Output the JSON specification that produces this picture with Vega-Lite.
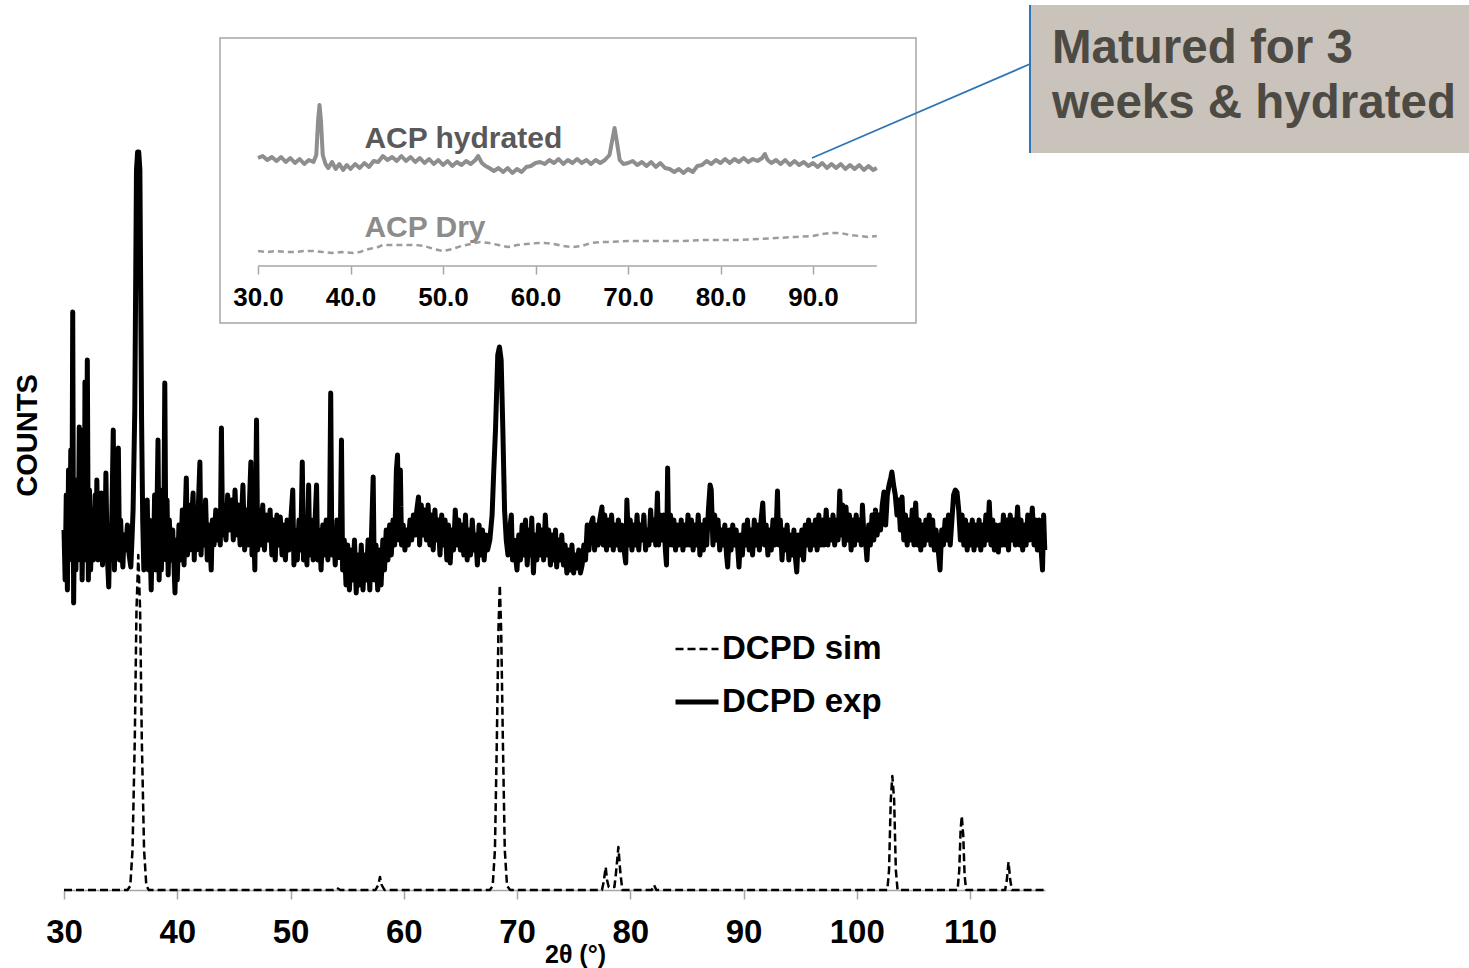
{
  "$schema": "https://vega.github.io/schema/vega-lite/v6.json",
  "width": 981,
  "height": 890,
  "autosize": "none",
  "padding": {"left": 64, "top": 0, "right": 424, "bottom": 78},
  "background": "white",
  "config": {
    "view": {"stroke": null},
    "font": "Liberation Sans"
  },
  "datasets": {
    "xrd": [
      {"series":"DCPD sim","theta":30,"counts":0},
      {"series":"DCPD sim","theta":35.6,"counts":0},
      {"series":"DCPD sim","theta":35.85,"counts":4},
      {"series":"DCPD sim","theta":36.05,"counts":40},
      {"series":"DCPD sim","theta":36.25,"counts":150},
      {"series":"DCPD sim","theta":36.4,"counts":280},
      {"series":"DCPD sim","theta":36.56,"counts":335},
      {"series":"DCPD sim","theta":36.72,"counts":280},
      {"series":"DCPD sim","theta":36.87,"counts":150},
      {"series":"DCPD sim","theta":37.07,"counts":40},
      {"series":"DCPD sim","theta":37.27,"counts":4},
      {"series":"DCPD sim","theta":37.5,"counts":0},
      {"series":"DCPD sim","theta":53.8,"counts":0},
      {"series":"DCPD sim","theta":54.1,"counts":2},
      {"series":"DCPD sim","theta":54.4,"counts":0},
      {"series":"DCPD sim","theta":57.5,"counts":0},
      {"series":"DCPD sim","theta":57.75,"counts":5},
      {"series":"DCPD sim","theta":57.9,"counts":13},
      {"series":"DCPD sim","theta":58.05,"counts":5},
      {"series":"DCPD sim","theta":58.3,"counts":0},
      {"series":"DCPD sim","theta":67.6,"counts":0},
      {"series":"DCPD sim","theta":67.85,"counts":4},
      {"series":"DCPD sim","theta":68.05,"counts":40},
      {"series":"DCPD sim","theta":68.22,"counts":150},
      {"series":"DCPD sim","theta":68.36,"counts":260},
      {"series":"DCPD sim","theta":68.48,"counts":305},
      {"series":"DCPD sim","theta":68.6,"counts":260},
      {"series":"DCPD sim","theta":68.75,"counts":150},
      {"series":"DCPD sim","theta":68.92,"counts":40},
      {"series":"DCPD sim","theta":69.12,"counts":4},
      {"series":"DCPD sim","theta":69.4,"counts":0},
      {"series":"DCPD sim","theta":77.5,"counts":0},
      {"series":"DCPD sim","theta":77.65,"counts":8},
      {"series":"DCPD sim","theta":77.83,"counts":23},
      {"series":"DCPD sim","theta":77.95,"counts":10},
      {"series":"DCPD sim","theta":78.1,"counts":3},
      {"series":"DCPD sim","theta":78.6,"counts":3},
      {"series":"DCPD sim","theta":78.75,"counts":18},
      {"series":"DCPD sim","theta":78.95,"counts":43},
      {"series":"DCPD sim","theta":79.12,"counts":18},
      {"series":"DCPD sim","theta":79.3,"counts":0},
      {"series":"DCPD sim","theta":81.9,"counts":0},
      {"series":"DCPD sim","theta":82.1,"counts":5},
      {"series":"DCPD sim","theta":82.3,"counts":0},
      {"series":"DCPD sim","theta":102.7,"counts":0},
      {"series":"DCPD sim","theta":102.85,"counts":20},
      {"series":"DCPD sim","theta":103.0,"counts":90},
      {"series":"DCPD sim","theta":103.14,"counts":114},
      {"series":"DCPD sim","theta":103.3,"counts":90},
      {"series":"DCPD sim","theta":103.45,"counts":20},
      {"series":"DCPD sim","theta":103.6,"counts":0},
      {"series":"DCPD sim","theta":108.9,"counts":0},
      {"series":"DCPD sim","theta":109.05,"counts":20},
      {"series":"DCPD sim","theta":109.17,"counts":60},
      {"series":"DCPD sim","theta":109.27,"counts":74},
      {"series":"DCPD sim","theta":109.4,"counts":55},
      {"series":"DCPD sim","theta":109.52,"counts":15},
      {"series":"DCPD sim","theta":109.65,"counts":0},
      {"series":"DCPD sim","theta":113.1,"counts":0},
      {"series":"DCPD sim","theta":113.25,"counts":10},
      {"series":"DCPD sim","theta":113.4,"counts":28},
      {"series":"DCPD sim","theta":113.55,"counts":10},
      {"series":"DCPD sim","theta":113.7,"counts":0},
      {"series":"DCPD sim","theta":116.6,"counts":0},
      {"series":"DCPD exp","theta":30.0,"counts":360},
      {"series":"DCPD exp","theta":30.1,"counts":310},
      {"series":"DCPD exp","theta":30.2,"counts":395},
      {"series":"DCPD exp","theta":30.3,"counts":300},
      {"series":"DCPD exp","theta":30.4,"counts":420},
      {"series":"DCPD exp","theta":30.5,"counts":330},
      {"series":"DCPD exp","theta":30.6,"counts":440},
      {"series":"DCPD exp","theta":30.7,"counts":350},
      {"series":"DCPD exp","theta":30.77,"counts":578},
      {"series":"DCPD exp","theta":30.85,"counts":287},
      {"series":"DCPD exp","theta":30.95,"counts":395},
      {"series":"DCPD exp","theta":31.05,"counts":320},
      {"series":"DCPD exp","theta":31.15,"counts":410},
      {"series":"DCPD exp","theta":31.25,"counts":330},
      {"series":"DCPD exp","theta":31.35,"counts":463},
      {"series":"DCPD exp","theta":31.42,"counts":340},
      {"series":"DCPD exp","theta":31.5,"counts":460},
      {"series":"DCPD exp","theta":31.6,"counts":310},
      {"series":"DCPD exp","theta":31.7,"counts":395},
      {"series":"DCPD exp","theta":31.8,"counts":340},
      {"series":"DCPD exp","theta":31.85,"counts":508},
      {"series":"DCPD exp","theta":31.95,"counts":330},
      {"series":"DCPD exp","theta":32.06,"counts":530},
      {"series":"DCPD exp","theta":32.15,"counts":310},
      {"series":"DCPD exp","theta":32.25,"counts":400},
      {"series":"DCPD exp","theta":32.35,"counts":320},
      {"series":"DCPD exp","theta":32.5,"counts":380},
      {"series":"DCPD exp","theta":32.6,"counts":330},
      {"series":"DCPD exp","theta":32.75,"counts":395},
      {"series":"DCPD exp","theta":32.85,"counts":340},
      {"series":"DCPD exp","theta":32.9,"counts":410},
      {"series":"DCPD exp","theta":33.0,"counts":330},
      {"series":"DCPD exp","theta":33.1,"counts":380},
      {"series":"DCPD exp","theta":33.2,"counts":345},
      {"series":"DCPD exp","theta":33.3,"counts":397},
      {"series":"DCPD exp","theta":33.4,"counts":325},
      {"series":"DCPD exp","theta":33.5,"counts":380},
      {"series":"DCPD exp","theta":33.6,"counts":335},
      {"series":"DCPD exp","theta":33.7,"counts":417},
      {"series":"DCPD exp","theta":33.8,"counts":340},
      {"series":"DCPD exp","theta":33.95,"counts":303},
      {"series":"DCPD exp","theta":34.05,"counts":360},
      {"series":"DCPD exp","theta":34.15,"counts":330},
      {"series":"DCPD exp","theta":34.25,"counts":390},
      {"series":"DCPD exp","theta":34.35,"counts":460},
      {"series":"DCPD exp","theta":34.45,"counts":320},
      {"series":"DCPD exp","theta":34.55,"counts":380},
      {"series":"DCPD exp","theta":34.65,"counts":335},
      {"series":"DCPD exp","theta":34.8,"counts":442},
      {"series":"DCPD exp","theta":34.9,"counts":330},
      {"series":"DCPD exp","theta":35.0,"counts":370},
      {"series":"DCPD exp","theta":35.1,"counts":340},
      {"series":"DCPD exp","theta":35.2,"counts":323},
      {"series":"DCPD exp","theta":35.3,"counts":355},
      {"series":"DCPD exp","theta":35.45,"counts":340},
      {"series":"DCPD exp","theta":35.6,"counts":365},
      {"series":"DCPD exp","theta":35.75,"counts":335},
      {"series":"DCPD exp","theta":35.9,"counts":323},
      {"series":"DCPD exp","theta":36.0,"counts":350},
      {"series":"DCPD exp","theta":36.1,"counts":380},
      {"series":"DCPD exp","theta":36.25,"counts":480},
      {"series":"DCPD exp","theta":36.4,"counts":720},
      {"series":"DCPD exp","theta":36.5,"counts":738},
      {"series":"DCPD exp","theta":36.6,"counts":738},
      {"series":"DCPD exp","theta":36.7,"counts":720},
      {"series":"DCPD exp","theta":36.85,"counts":470},
      {"series":"DCPD exp","theta":36.95,"counts":370},
      {"series":"DCPD exp","theta":37.05,"counts":320},
      {"series":"DCPD exp","theta":37.15,"counts":360},
      {"series":"DCPD exp","theta":37.25,"counts":330},
      {"series":"DCPD exp","theta":37.35,"counts":390},
      {"series":"DCPD exp","theta":37.45,"counts":320},
      {"series":"DCPD exp","theta":37.55,"counts":370},
      {"series":"DCPD exp","theta":37.7,"counts":300},
      {"series":"DCPD exp","theta":37.8,"counts":360},
      {"series":"DCPD exp","theta":37.9,"counts":330},
      {"series":"DCPD exp","theta":38.0,"counts":395},
      {"series":"DCPD exp","theta":38.1,"counts":320},
      {"series":"DCPD exp","theta":38.2,"counts":370},
      {"series":"DCPD exp","theta":38.3,"counts":450},
      {"series":"DCPD exp","theta":38.4,"counts":310},
      {"series":"DCPD exp","theta":38.5,"counts":380},
      {"series":"DCPD exp","theta":38.6,"counts":320},
      {"series":"DCPD exp","theta":38.7,"counts":400},
      {"series":"DCPD exp","theta":38.8,"counts":340},
      {"series":"DCPD exp","theta":38.9,"counts":507},
      {"series":"DCPD exp","theta":39.0,"counts":330},
      {"series":"DCPD exp","theta":39.1,"counts":390},
      {"series":"DCPD exp","theta":39.2,"counts":315},
      {"series":"DCPD exp","theta":39.3,"counts":370},
      {"series":"DCPD exp","theta":39.45,"counts":330},
      {"series":"DCPD exp","theta":39.6,"counts":360},
      {"series":"DCPD exp","theta":39.8,"counts":297},
      {"series":"DCPD exp","theta":39.9,"counts":350},
      {"series":"DCPD exp","theta":40.0,"counts":310},
      {"series":"DCPD exp","theta":40.15,"counts":365},
      {"series":"DCPD exp","theta":40.3,"counts":330},
      {"series":"DCPD exp","theta":40.45,"counts":380},
      {"series":"DCPD exp","theta":40.6,"counts":325},
      {"series":"DCPD exp","theta":40.7,"counts":375},
      {"series":"DCPD exp","theta":40.8,"counts":412},
      {"series":"DCPD exp","theta":40.9,"counts":335},
      {"series":"DCPD exp","theta":41.0,"counts":385},
      {"series":"DCPD exp","theta":41.1,"counts":340},
      {"series":"DCPD exp","theta":41.25,"counts":370},
      {"series":"DCPD exp","theta":41.4,"counts":397},
      {"series":"DCPD exp","theta":41.5,"counts":330},
      {"series":"DCPD exp","theta":41.6,"counts":375},
      {"series":"DCPD exp","theta":41.7,"counts":340},
      {"series":"DCPD exp","theta":41.85,"counts":380},
      {"series":"DCPD exp","theta":42.0,"counts":428},
      {"series":"DCPD exp","theta":42.1,"counts":335},
      {"series":"DCPD exp","theta":42.25,"counts":380},
      {"series":"DCPD exp","theta":42.4,"counts":345},
      {"series":"DCPD exp","theta":42.5,"counts":390},
      {"series":"DCPD exp","theta":42.65,"counts":330},
      {"series":"DCPD exp","theta":42.8,"counts":365},
      {"series":"DCPD exp","theta":43.0,"counts":320},
      {"series":"DCPD exp","theta":43.1,"counts":370},
      {"series":"DCPD exp","theta":43.25,"counts":345},
      {"series":"DCPD exp","theta":43.4,"counts":380},
      {"series":"DCPD exp","theta":43.5,"counts":350},
      {"series":"DCPD exp","theta":43.65,"counts":375},
      {"series":"DCPD exp","theta":43.8,"counts":345},
      {"series":"DCPD exp","theta":43.9,"counts":462},
      {"series":"DCPD exp","theta":44.0,"counts":355},
      {"series":"DCPD exp","theta":44.15,"counts":385},
      {"series":"DCPD exp","theta":44.3,"counts":350},
      {"series":"DCPD exp","theta":44.45,"counts":395},
      {"series":"DCPD exp","theta":44.6,"counts":360},
      {"series":"DCPD exp","theta":44.8,"counts":390},
      {"series":"DCPD exp","theta":44.95,"counts":350},
      {"series":"DCPD exp","theta":45.1,"counts":400},
      {"series":"DCPD exp","theta":45.25,"counts":355},
      {"series":"DCPD exp","theta":45.4,"counts":385},
      {"series":"DCPD exp","theta":45.55,"counts":345},
      {"series":"DCPD exp","theta":45.7,"counts":380},
      {"series":"DCPD exp","theta":45.8,"counts":405},
      {"series":"DCPD exp","theta":45.95,"counts":340},
      {"series":"DCPD exp","theta":46.1,"counts":380},
      {"series":"DCPD exp","theta":46.25,"counts":345},
      {"series":"DCPD exp","theta":46.4,"counts":395},
      {"series":"DCPD exp","theta":46.5,"counts":428},
      {"series":"DCPD exp","theta":46.6,"counts":335},
      {"series":"DCPD exp","theta":46.75,"counts":365},
      {"series":"DCPD exp","theta":46.85,"counts":320},
      {"series":"DCPD exp","theta":47.0,"counts":470},
      {"series":"DCPD exp","theta":47.1,"counts":340},
      {"series":"DCPD exp","theta":47.25,"counts":380},
      {"series":"DCPD exp","theta":47.4,"counts":345},
      {"series":"DCPD exp","theta":47.55,"counts":385},
      {"series":"DCPD exp","theta":47.7,"counts":340},
      {"series":"DCPD exp","theta":47.85,"counts":375},
      {"series":"DCPD exp","theta":48.0,"counts":350},
      {"series":"DCPD exp","theta":48.2,"counts":380},
      {"series":"DCPD exp","theta":48.35,"counts":335},
      {"series":"DCPD exp","theta":48.5,"counts":370},
      {"series":"DCPD exp","theta":48.65,"counts":330},
      {"series":"DCPD exp","theta":48.8,"counts":375},
      {"series":"DCPD exp","theta":48.95,"counts":345},
      {"series":"DCPD exp","theta":49.1,"counts":373},
      {"series":"DCPD exp","theta":49.25,"counts":335},
      {"series":"DCPD exp","theta":49.4,"counts":365},
      {"series":"DCPD exp","theta":49.55,"counts":330},
      {"series":"DCPD exp","theta":49.7,"counts":370},
      {"series":"DCPD exp","theta":49.85,"counts":340},
      {"series":"DCPD exp","theta":50.0,"counts":365},
      {"series":"DCPD exp","theta":50.2,"counts":400},
      {"series":"DCPD exp","theta":50.3,"counts":325},
      {"series":"DCPD exp","theta":50.45,"counts":360},
      {"series":"DCPD exp","theta":50.6,"counts":330},
      {"series":"DCPD exp","theta":50.75,"counts":370},
      {"series":"DCPD exp","theta":50.9,"counts":340},
      {"series":"DCPD exp","theta":51.04,"counts":428},
      {"series":"DCPD exp","theta":51.15,"counts":330},
      {"series":"DCPD exp","theta":51.3,"counts":365},
      {"series":"DCPD exp","theta":51.45,"counts":325},
      {"series":"DCPD exp","theta":51.6,"counts":405},
      {"series":"DCPD exp","theta":51.7,"counts":335},
      {"series":"DCPD exp","theta":51.85,"counts":370},
      {"series":"DCPD exp","theta":52.0,"counts":330},
      {"series":"DCPD exp","theta":52.15,"counts":365},
      {"series":"DCPD exp","theta":52.3,"counts":405},
      {"series":"DCPD exp","theta":52.4,"counts":330},
      {"series":"DCPD exp","theta":52.55,"counts":360},
      {"series":"DCPD exp","theta":52.7,"counts":320},
      {"series":"DCPD exp","theta":52.85,"counts":365},
      {"series":"DCPD exp","theta":53.0,"counts":335},
      {"series":"DCPD exp","theta":53.15,"counts":370},
      {"series":"DCPD exp","theta":53.3,"counts":330},
      {"series":"DCPD exp","theta":53.45,"counts":365},
      {"series":"DCPD exp","theta":53.55,"counts":497},
      {"series":"DCPD exp","theta":53.65,"counts":335},
      {"series":"DCPD exp","theta":53.8,"counts":360},
      {"series":"DCPD exp","theta":53.95,"counts":325},
      {"series":"DCPD exp","theta":54.1,"counts":370},
      {"series":"DCPD exp","theta":54.25,"counts":330},
      {"series":"DCPD exp","theta":54.4,"counts":355},
      {"series":"DCPD exp","theta":54.5,"counts":450},
      {"series":"DCPD exp","theta":54.6,"counts":320},
      {"series":"DCPD exp","theta":54.75,"counts":350},
      {"series":"DCPD exp","theta":54.9,"counts":305},
      {"series":"DCPD exp","theta":55.05,"counts":345},
      {"series":"DCPD exp","theta":55.2,"counts":300},
      {"series":"DCPD exp","theta":55.35,"counts":340},
      {"series":"DCPD exp","theta":55.5,"counts":310},
      {"series":"DCPD exp","theta":55.65,"counts":350},
      {"series":"DCPD exp","theta":55.8,"counts":297},
      {"series":"DCPD exp","theta":55.95,"counts":335},
      {"series":"DCPD exp","theta":56.1,"counts":305},
      {"series":"DCPD exp","theta":56.25,"counts":345},
      {"series":"DCPD exp","theta":56.4,"counts":300},
      {"series":"DCPD exp","theta":56.55,"counts":335},
      {"series":"DCPD exp","theta":56.7,"counts":310},
      {"series":"DCPD exp","theta":56.85,"counts":350},
      {"series":"DCPD exp","theta":57.0,"counts":300},
      {"series":"DCPD exp","theta":57.15,"counts":355},
      {"series":"DCPD exp","theta":57.3,"counts":413},
      {"series":"DCPD exp","theta":57.4,"counts":310},
      {"series":"DCPD exp","theta":57.55,"counts":345},
      {"series":"DCPD exp","theta":57.7,"counts":300},
      {"series":"DCPD exp","theta":57.85,"counts":340},
      {"series":"DCPD exp","theta":58.0,"counts":305},
      {"series":"DCPD exp","theta":58.15,"counts":350},
      {"series":"DCPD exp","theta":58.3,"counts":320},
      {"series":"DCPD exp","theta":58.45,"counts":360},
      {"series":"DCPD exp","theta":58.6,"counts":330},
      {"series":"DCPD exp","theta":58.75,"counts":365},
      {"series":"DCPD exp","theta":58.9,"counts":335},
      {"series":"DCPD exp","theta":59.05,"counts":370},
      {"series":"DCPD exp","theta":59.2,"counts":345},
      {"series":"DCPD exp","theta":59.35,"counts":420},
      {"series":"DCPD exp","theta":59.45,"counts":435},
      {"series":"DCPD exp","theta":59.55,"counts":350},
      {"series":"DCPD exp","theta":59.7,"counts":420},
      {"series":"DCPD exp","theta":59.8,"counts":345},
      {"series":"DCPD exp","theta":59.95,"counts":365},
      {"series":"DCPD exp","theta":60.1,"counts":340},
      {"series":"DCPD exp","theta":60.25,"counts":360},
      {"series":"DCPD exp","theta":60.4,"counts":345},
      {"series":"DCPD exp","theta":60.55,"counts":370},
      {"series":"DCPD exp","theta":60.7,"counts":350},
      {"series":"DCPD exp","theta":60.85,"counts":375},
      {"series":"DCPD exp","theta":61.0,"counts":355},
      {"series":"DCPD exp","theta":61.15,"counts":380},
      {"series":"DCPD exp","theta":61.3,"counts":393},
      {"series":"DCPD exp","theta":61.4,"counts":345},
      {"series":"DCPD exp","theta":61.55,"counts":385},
      {"series":"DCPD exp","theta":61.7,"counts":355},
      {"series":"DCPD exp","theta":61.85,"counts":380},
      {"series":"DCPD exp","theta":62.0,"counts":350},
      {"series":"DCPD exp","theta":62.15,"counts":385},
      {"series":"DCPD exp","theta":62.3,"counts":345},
      {"series":"DCPD exp","theta":62.45,"counts":375},
      {"series":"DCPD exp","theta":62.6,"counts":340},
      {"series":"DCPD exp","theta":62.75,"counts":380},
      {"series":"DCPD exp","theta":62.9,"counts":350},
      {"series":"DCPD exp","theta":63.05,"counts":370},
      {"series":"DCPD exp","theta":63.2,"counts":335},
      {"series":"DCPD exp","theta":63.35,"counts":375},
      {"series":"DCPD exp","theta":63.5,"counts":345},
      {"series":"DCPD exp","theta":63.65,"counts":370},
      {"series":"DCPD exp","theta":63.8,"counts":330},
      {"series":"DCPD exp","theta":63.95,"counts":365},
      {"series":"DCPD exp","theta":64.1,"counts":327},
      {"series":"DCPD exp","theta":64.25,"counts":360},
      {"series":"DCPD exp","theta":64.4,"counts":340},
      {"series":"DCPD exp","theta":64.55,"counts":380},
      {"series":"DCPD exp","theta":64.7,"counts":345},
      {"series":"DCPD exp","theta":64.85,"counts":370},
      {"series":"DCPD exp","theta":65.0,"counts":340},
      {"series":"DCPD exp","theta":65.15,"counts":365},
      {"series":"DCPD exp","theta":65.3,"counts":335},
      {"series":"DCPD exp","theta":65.45,"counts":375},
      {"series":"DCPD exp","theta":65.6,"counts":330},
      {"series":"DCPD exp","theta":65.75,"counts":360},
      {"series":"DCPD exp","theta":65.9,"counts":335},
      {"series":"DCPD exp","theta":66.05,"counts":370},
      {"series":"DCPD exp","theta":66.2,"counts":340},
      {"series":"DCPD exp","theta":66.35,"counts":355},
      {"series":"DCPD exp","theta":66.5,"counts":325},
      {"series":"DCPD exp","theta":66.65,"counts":365},
      {"series":"DCPD exp","theta":66.8,"counts":335},
      {"series":"DCPD exp","theta":66.95,"counts":360},
      {"series":"DCPD exp","theta":67.1,"counts":330},
      {"series":"DCPD exp","theta":67.25,"counts":355},
      {"series":"DCPD exp","theta":67.4,"counts":340},
      {"series":"DCPD exp","theta":67.6,"counts":350},
      {"series":"DCPD exp","theta":67.8,"counts":375},
      {"series":"DCPD exp","theta":67.95,"counts":420},
      {"series":"DCPD exp","theta":68.1,"counts":460},
      {"series":"DCPD exp","theta":68.3,"counts":535},
      {"series":"DCPD exp","theta":68.45,"counts":543},
      {"series":"DCPD exp","theta":68.6,"counts":530},
      {"series":"DCPD exp","theta":68.75,"counts":460},
      {"series":"DCPD exp","theta":68.9,"counts":380},
      {"series":"DCPD exp","theta":69.05,"counts":350},
      {"series":"DCPD exp","theta":69.2,"counts":335},
      {"series":"DCPD exp","theta":69.35,"counts":360},
      {"series":"DCPD exp","theta":69.5,"counts":375},
      {"series":"DCPD exp","theta":69.6,"counts":330},
      {"series":"DCPD exp","theta":69.75,"counts":350},
      {"series":"DCPD exp","theta":69.9,"counts":330},
      {"series":"DCPD exp","theta":70.0,"counts":320},
      {"series":"DCPD exp","theta":70.15,"counts":355},
      {"series":"DCPD exp","theta":70.3,"counts":330},
      {"series":"DCPD exp","theta":70.45,"counts":365},
      {"series":"DCPD exp","theta":70.6,"counts":335},
      {"series":"DCPD exp","theta":70.75,"counts":370},
      {"series":"DCPD exp","theta":70.9,"counts":325},
      {"series":"DCPD exp","theta":71.05,"counts":360},
      {"series":"DCPD exp","theta":71.2,"counts":335},
      {"series":"DCPD exp","theta":71.3,"counts":372},
      {"series":"DCPD exp","theta":71.45,"counts":317},
      {"series":"DCPD exp","theta":71.6,"counts":355},
      {"series":"DCPD exp","theta":71.75,"counts":330},
      {"series":"DCPD exp","theta":71.9,"counts":365},
      {"series":"DCPD exp","theta":72.05,"counts":335},
      {"series":"DCPD exp","theta":72.2,"counts":360},
      {"series":"DCPD exp","theta":72.35,"counts":330},
      {"series":"DCPD exp","theta":72.5,"counts":375},
      {"series":"DCPD exp","theta":72.65,"counts":335},
      {"series":"DCPD exp","theta":72.8,"counts":360},
      {"series":"DCPD exp","theta":72.95,"counts":325},
      {"series":"DCPD exp","theta":73.1,"counts":355},
      {"series":"DCPD exp","theta":73.25,"counts":330},
      {"series":"DCPD exp","theta":73.4,"counts":360},
      {"series":"DCPD exp","theta":73.5,"counts":323},
      {"series":"DCPD exp","theta":73.65,"counts":350},
      {"series":"DCPD exp","theta":73.8,"counts":330},
      {"series":"DCPD exp","theta":73.95,"counts":355},
      {"series":"DCPD exp","theta":74.1,"counts":325},
      {"series":"DCPD exp","theta":74.25,"counts":345},
      {"series":"DCPD exp","theta":74.4,"counts":317},
      {"series":"DCPD exp","theta":74.55,"counts":340},
      {"series":"DCPD exp","theta":74.7,"counts":320},
      {"series":"DCPD exp","theta":74.85,"counts":345},
      {"series":"DCPD exp","theta":75.0,"counts":317},
      {"series":"DCPD exp","theta":75.15,"counts":335},
      {"series":"DCPD exp","theta":75.3,"counts":322},
      {"series":"DCPD exp","theta":75.45,"counts":340},
      {"series":"DCPD exp","theta":75.6,"counts":317},
      {"series":"DCPD exp","theta":75.75,"counts":325},
      {"series":"DCPD exp","theta":75.9,"counts":345},
      {"series":"DCPD exp","theta":76.05,"counts":330},
      {"series":"DCPD exp","theta":76.2,"counts":365},
      {"series":"DCPD exp","theta":76.35,"counts":340},
      {"series":"DCPD exp","theta":76.5,"counts":365},
      {"series":"DCPD exp","theta":76.7,"counts":372},
      {"series":"DCPD exp","theta":76.85,"counts":340},
      {"series":"DCPD exp","theta":77.0,"counts":365},
      {"series":"DCPD exp","theta":77.15,"counts":345},
      {"series":"DCPD exp","theta":77.3,"counts":370},
      {"series":"DCPD exp","theta":77.5,"counts":383},
      {"series":"DCPD exp","theta":77.6,"counts":345},
      {"series":"DCPD exp","theta":77.75,"counts":375},
      {"series":"DCPD exp","theta":77.9,"counts":340},
      {"series":"DCPD exp","theta":78.05,"counts":370},
      {"series":"DCPD exp","theta":78.2,"counts":345},
      {"series":"DCPD exp","theta":78.35,"counts":375},
      {"series":"DCPD exp","theta":78.5,"counts":340},
      {"series":"DCPD exp","theta":78.65,"counts":365},
      {"series":"DCPD exp","theta":78.8,"counts":345},
      {"series":"DCPD exp","theta":78.95,"counts":370},
      {"series":"DCPD exp","theta":79.1,"counts":340},
      {"series":"DCPD exp","theta":79.25,"counts":365},
      {"series":"DCPD exp","theta":79.4,"counts":345},
      {"series":"DCPD exp","theta":79.6,"counts":327},
      {"series":"DCPD exp","theta":79.7,"counts":390},
      {"series":"DCPD exp","theta":79.85,"counts":345},
      {"series":"DCPD exp","theta":80.0,"counts":370},
      {"series":"DCPD exp","theta":80.15,"counts":340},
      {"series":"DCPD exp","theta":80.3,"counts":365},
      {"series":"DCPD exp","theta":80.45,"counts":345},
      {"series":"DCPD exp","theta":80.6,"counts":375},
      {"series":"DCPD exp","theta":80.75,"counts":340},
      {"series":"DCPD exp","theta":80.9,"counts":365},
      {"series":"DCPD exp","theta":81.05,"counts":350},
      {"series":"DCPD exp","theta":81.2,"counts":375},
      {"series":"DCPD exp","theta":81.35,"counts":340},
      {"series":"DCPD exp","theta":81.5,"counts":360},
      {"series":"DCPD exp","theta":81.65,"counts":345},
      {"series":"DCPD exp","theta":81.8,"counts":380},
      {"series":"DCPD exp","theta":81.95,"counts":350},
      {"series":"DCPD exp","theta":82.1,"counts":370},
      {"series":"DCPD exp","theta":82.25,"counts":345},
      {"series":"DCPD exp","theta":82.4,"counts":397},
      {"series":"DCPD exp","theta":82.5,"counts":345},
      {"series":"DCPD exp","theta":82.65,"counts":375},
      {"series":"DCPD exp","theta":82.8,"counts":350},
      {"series":"DCPD exp","theta":82.95,"counts":375},
      {"series":"DCPD exp","theta":83.1,"counts":340},
      {"series":"DCPD exp","theta":83.2,"counts":325},
      {"series":"DCPD exp","theta":83.3,"counts":422},
      {"series":"DCPD exp","theta":83.4,"counts":345},
      {"series":"DCPD exp","theta":83.55,"counts":375},
      {"series":"DCPD exp","theta":83.7,"counts":345},
      {"series":"DCPD exp","theta":83.85,"counts":370},
      {"series":"DCPD exp","theta":84.0,"counts":340},
      {"series":"DCPD exp","theta":84.15,"counts":365},
      {"series":"DCPD exp","theta":84.3,"counts":345},
      {"series":"DCPD exp","theta":84.5,"counts":370},
      {"series":"DCPD exp","theta":84.65,"counts":340},
      {"series":"DCPD exp","theta":84.8,"counts":365},
      {"series":"DCPD exp","theta":84.95,"counts":345},
      {"series":"DCPD exp","theta":85.1,"counts":375},
      {"series":"DCPD exp","theta":85.25,"counts":345},
      {"series":"DCPD exp","theta":85.4,"counts":370},
      {"series":"DCPD exp","theta":85.55,"counts":340},
      {"series":"DCPD exp","theta":85.7,"counts":365},
      {"series":"DCPD exp","theta":85.85,"counts":345},
      {"series":"DCPD exp","theta":86.0,"counts":375},
      {"series":"DCPD exp","theta":86.15,"counts":335},
      {"series":"DCPD exp","theta":86.3,"counts":365},
      {"series":"DCPD exp","theta":86.45,"counts":340},
      {"series":"DCPD exp","theta":86.6,"counts":370},
      {"series":"DCPD exp","theta":86.75,"counts":345},
      {"series":"DCPD exp","theta":86.9,"counts":380},
      {"series":"DCPD exp","theta":87.05,"counts":405},
      {"series":"DCPD exp","theta":87.15,"counts":400},
      {"series":"DCPD exp","theta":87.3,"counts":345},
      {"series":"DCPD exp","theta":87.45,"counts":375},
      {"series":"DCPD exp","theta":87.6,"counts":350},
      {"series":"DCPD exp","theta":87.75,"counts":370},
      {"series":"DCPD exp","theta":87.9,"counts":340},
      {"series":"DCPD exp","theta":88.05,"counts":360},
      {"series":"DCPD exp","theta":88.2,"counts":345},
      {"series":"DCPD exp","theta":88.35,"counts":365},
      {"series":"DCPD exp","theta":88.5,"counts":335},
      {"series":"DCPD exp","theta":88.6,"counts":323},
      {"series":"DCPD exp","theta":88.75,"counts":360},
      {"series":"DCPD exp","theta":88.9,"counts":340},
      {"series":"DCPD exp","theta":89.05,"counts":365},
      {"series":"DCPD exp","theta":89.2,"counts":345},
      {"series":"DCPD exp","theta":89.35,"counts":360},
      {"series":"DCPD exp","theta":89.5,"counts":340},
      {"series":"DCPD exp","theta":89.6,"counts":323},
      {"series":"DCPD exp","theta":89.75,"counts":355},
      {"series":"DCPD exp","theta":89.9,"counts":335},
      {"series":"DCPD exp","theta":90.05,"counts":365},
      {"series":"DCPD exp","theta":90.2,"counts":345},
      {"series":"DCPD exp","theta":90.35,"counts":370},
      {"series":"DCPD exp","theta":90.5,"counts":340},
      {"series":"DCPD exp","theta":90.65,"counts":360},
      {"series":"DCPD exp","theta":90.8,"counts":335},
      {"series":"DCPD exp","theta":90.95,"counts":370},
      {"series":"DCPD exp","theta":91.1,"counts":345},
      {"series":"DCPD exp","theta":91.25,"counts":365},
      {"series":"DCPD exp","theta":91.4,"counts":340},
      {"series":"DCPD exp","theta":91.55,"counts":370},
      {"series":"DCPD exp","theta":91.7,"counts":387},
      {"series":"DCPD exp","theta":91.85,"counts":345},
      {"series":"DCPD exp","theta":92.0,"counts":365},
      {"series":"DCPD exp","theta":92.15,"counts":335},
      {"series":"DCPD exp","theta":92.3,"counts":360},
      {"series":"DCPD exp","theta":92.45,"counts":340},
      {"series":"DCPD exp","theta":92.6,"counts":370},
      {"series":"DCPD exp","theta":92.75,"counts":345},
      {"series":"DCPD exp","theta":92.9,"counts":365},
      {"series":"DCPD exp","theta":93.0,"counts":399},
      {"series":"DCPD exp","theta":93.1,"counts":345},
      {"series":"DCPD exp","theta":93.25,"counts":370},
      {"series":"DCPD exp","theta":93.4,"counts":330},
      {"series":"DCPD exp","theta":93.55,"counts":360},
      {"series":"DCPD exp","theta":93.7,"counts":340},
      {"series":"DCPD exp","theta":93.85,"counts":365},
      {"series":"DCPD exp","theta":94.0,"counts":330},
      {"series":"DCPD exp","theta":94.15,"counts":355},
      {"series":"DCPD exp","theta":94.3,"counts":335},
      {"series":"DCPD exp","theta":94.45,"counts":360},
      {"series":"DCPD exp","theta":94.6,"counts":330},
      {"series":"DCPD exp","theta":94.7,"counts":318},
      {"series":"DCPD exp","theta":94.85,"counts":355},
      {"series":"DCPD exp","theta":95.0,"counts":335},
      {"series":"DCPD exp","theta":95.15,"counts":360},
      {"series":"DCPD exp","theta":95.3,"counts":330},
      {"series":"DCPD exp","theta":95.45,"counts":365},
      {"series":"DCPD exp","theta":95.6,"counts":345},
      {"series":"DCPD exp","theta":95.75,"counts":370},
      {"series":"DCPD exp","theta":95.9,"counts":340},
      {"series":"DCPD exp","theta":96.05,"counts":365},
      {"series":"DCPD exp","theta":96.2,"counts":345},
      {"series":"DCPD exp","theta":96.35,"counts":370},
      {"series":"DCPD exp","theta":96.5,"counts":340},
      {"series":"DCPD exp","theta":96.65,"counts":375},
      {"series":"DCPD exp","theta":96.8,"counts":345},
      {"series":"DCPD exp","theta":96.95,"counts":370},
      {"series":"DCPD exp","theta":97.1,"counts":345},
      {"series":"DCPD exp","theta":97.3,"counts":380},
      {"series":"DCPD exp","theta":97.45,"counts":345},
      {"series":"DCPD exp","theta":97.6,"counts":370},
      {"series":"DCPD exp","theta":97.75,"counts":350},
      {"series":"DCPD exp","theta":97.9,"counts":375},
      {"series":"DCPD exp","theta":98.05,"counts":345},
      {"series":"DCPD exp","theta":98.2,"counts":370},
      {"series":"DCPD exp","theta":98.35,"counts":350},
      {"series":"DCPD exp","theta":98.5,"counts":399},
      {"series":"DCPD exp","theta":98.6,"counts":355},
      {"series":"DCPD exp","theta":98.75,"counts":385},
      {"series":"DCPD exp","theta":98.9,"counts":345},
      {"series":"DCPD exp","theta":99.05,"counts":383},
      {"series":"DCPD exp","theta":99.2,"counts":350},
      {"series":"DCPD exp","theta":99.35,"counts":375},
      {"series":"DCPD exp","theta":99.5,"counts":340},
      {"series":"DCPD exp","theta":99.65,"counts":370},
      {"series":"DCPD exp","theta":99.8,"counts":345},
      {"series":"DCPD exp","theta":99.95,"counts":375},
      {"series":"DCPD exp","theta":100.1,"counts":350},
      {"series":"DCPD exp","theta":100.25,"counts":370},
      {"series":"DCPD exp","theta":100.4,"counts":345},
      {"series":"DCPD exp","theta":100.5,"counts":385},
      {"series":"DCPD exp","theta":100.65,"counts":350},
      {"series":"DCPD exp","theta":100.8,"counts":345},
      {"series":"DCPD exp","theta":100.9,"counts":330},
      {"series":"DCPD exp","theta":101.05,"counts":365},
      {"series":"DCPD exp","theta":101.2,"counts":345},
      {"series":"DCPD exp","theta":101.35,"counts":375},
      {"series":"DCPD exp","theta":101.5,"counts":350},
      {"series":"DCPD exp","theta":101.65,"counts":380},
      {"series":"DCPD exp","theta":101.8,"counts":355},
      {"series":"DCPD exp","theta":101.95,"counts":375},
      {"series":"DCPD exp","theta":102.1,"counts":360},
      {"series":"DCPD exp","theta":102.25,"counts":385},
      {"series":"DCPD exp","theta":102.4,"counts":398},
      {"series":"DCPD exp","theta":102.55,"counts":365},
      {"series":"DCPD exp","theta":102.7,"counts":395},
      {"series":"DCPD exp","theta":102.85,"counts":405},
      {"series":"DCPD exp","theta":103.0,"counts":412},
      {"series":"DCPD exp","theta":103.1,"counts":418},
      {"series":"DCPD exp","theta":103.25,"counts":405},
      {"series":"DCPD exp","theta":103.4,"counts":395},
      {"series":"DCPD exp","theta":103.55,"counts":375},
      {"series":"DCPD exp","theta":103.7,"counts":390},
      {"series":"DCPD exp","theta":103.85,"counts":360},
      {"series":"DCPD exp","theta":104.0,"counts":393},
      {"series":"DCPD exp","theta":104.15,"counts":350},
      {"series":"DCPD exp","theta":104.3,"counts":375},
      {"series":"DCPD exp","theta":104.45,"counts":345},
      {"series":"DCPD exp","theta":104.6,"counts":370},
      {"series":"DCPD exp","theta":104.75,"counts":350},
      {"series":"DCPD exp","theta":104.9,"counts":380},
      {"series":"DCPD exp","theta":105.05,"counts":345},
      {"series":"DCPD exp","theta":105.2,"counts":387},
      {"series":"DCPD exp","theta":105.35,"counts":345},
      {"series":"DCPD exp","theta":105.5,"counts":370},
      {"series":"DCPD exp","theta":105.65,"counts":340},
      {"series":"DCPD exp","theta":105.8,"counts":365},
      {"series":"DCPD exp","theta":105.95,"counts":345},
      {"series":"DCPD exp","theta":106.1,"counts":370},
      {"series":"DCPD exp","theta":106.25,"counts":350},
      {"series":"DCPD exp","theta":106.4,"counts":375},
      {"series":"DCPD exp","theta":106.55,"counts":345},
      {"series":"DCPD exp","theta":106.7,"counts":370},
      {"series":"DCPD exp","theta":106.85,"counts":340},
      {"series":"DCPD exp","theta":107.0,"counts":360},
      {"series":"DCPD exp","theta":107.15,"counts":345},
      {"series":"DCPD exp","theta":107.35,"counts":320},
      {"series":"DCPD exp","theta":107.5,"counts":360},
      {"series":"DCPD exp","theta":107.65,"counts":345},
      {"series":"DCPD exp","theta":107.8,"counts":370},
      {"series":"DCPD exp","theta":107.95,"counts":350},
      {"series":"DCPD exp","theta":108.1,"counts":375},
      {"series":"DCPD exp","theta":108.25,"counts":345},
      {"series":"DCPD exp","theta":108.4,"counts":370},
      {"series":"DCPD exp","theta":108.55,"counts":395},
      {"series":"DCPD exp","theta":108.7,"counts":400},
      {"series":"DCPD exp","theta":108.85,"counts":398},
      {"series":"DCPD exp","theta":109.0,"counts":380},
      {"series":"DCPD exp","theta":109.15,"counts":350},
      {"series":"DCPD exp","theta":109.3,"counts":375},
      {"series":"DCPD exp","theta":109.45,"counts":345},
      {"series":"DCPD exp","theta":109.6,"counts":370},
      {"series":"DCPD exp","theta":109.75,"counts":340},
      {"series":"DCPD exp","theta":109.9,"counts":365},
      {"series":"DCPD exp","theta":110.05,"counts":345},
      {"series":"DCPD exp","theta":110.2,"counts":370},
      {"series":"DCPD exp","theta":110.35,"counts":340},
      {"series":"DCPD exp","theta":110.5,"counts":365},
      {"series":"DCPD exp","theta":110.65,"counts":345},
      {"series":"DCPD exp","theta":110.8,"counts":370},
      {"series":"DCPD exp","theta":110.95,"counts":340},
      {"series":"DCPD exp","theta":111.1,"counts":365},
      {"series":"DCPD exp","theta":111.25,"counts":345},
      {"series":"DCPD exp","theta":111.4,"counts":375},
      {"series":"DCPD exp","theta":111.55,"counts":350},
      {"series":"DCPD exp","theta":111.7,"counts":388},
      {"series":"DCPD exp","theta":111.85,"counts":345},
      {"series":"DCPD exp","theta":112.0,"counts":370},
      {"series":"DCPD exp","theta":112.15,"counts":340},
      {"series":"DCPD exp","theta":112.3,"counts":365},
      {"series":"DCPD exp","theta":112.5,"counts":338},
      {"series":"DCPD exp","theta":112.65,"counts":365},
      {"series":"DCPD exp","theta":112.8,"counts":345},
      {"series":"DCPD exp","theta":112.95,"counts":375},
      {"series":"DCPD exp","theta":113.1,"counts":345},
      {"series":"DCPD exp","theta":113.25,"counts":370},
      {"series":"DCPD exp","theta":113.4,"counts":340},
      {"series":"DCPD exp","theta":113.55,"counts":375},
      {"series":"DCPD exp","theta":113.7,"counts":350},
      {"series":"DCPD exp","theta":113.85,"counts":370},
      {"series":"DCPD exp","theta":114.0,"counts":345},
      {"series":"DCPD exp","theta":114.2,"counts":383},
      {"series":"DCPD exp","theta":114.35,"counts":345},
      {"series":"DCPD exp","theta":114.5,"counts":370},
      {"series":"DCPD exp","theta":114.65,"counts":340},
      {"series":"DCPD exp","theta":114.8,"counts":365},
      {"series":"DCPD exp","theta":114.95,"counts":345},
      {"series":"DCPD exp","theta":115.1,"counts":375},
      {"series":"DCPD exp","theta":115.25,"counts":350},
      {"series":"DCPD exp","theta":115.4,"counts":365},
      {"series":"DCPD exp","theta":115.5,"counts":382},
      {"series":"DCPD exp","theta":115.65,"counts":345},
      {"series":"DCPD exp","theta":115.8,"counts":370},
      {"series":"DCPD exp","theta":115.95,"counts":340},
      {"series":"DCPD exp","theta":116.1,"counts":370},
      {"series":"DCPD exp","theta":116.25,"counts":345},
      {"series":"DCPD exp","theta":116.4,"counts":320},
      {"series":"DCPD exp","theta":116.5,"counts":375},
      {"series":"DCPD exp","theta":116.6,"counts":340}
    ],
    "hydrated": [
      {"theta":30.0,"counts":732},{"theta":30.5,"counts":734},{"theta":31.0,"counts":730},{"theta":31.5,"counts":733},
      {"theta":32.0,"counts":729},{"theta":32.5,"counts":733},{"theta":33.0,"counts":728},{"theta":33.5,"counts":732},
      {"theta":34.0,"counts":727},{"theta":34.5,"counts":731},{"theta":35.0,"counts":726},{"theta":35.5,"counts":730},
      {"theta":36.0,"counts":728},{"theta":36.3,"counts":735},{"theta":36.5,"counts":770},{"theta":36.65,"counts":785},
      {"theta":36.8,"counts":770},{"theta":37.0,"counts":735},{"theta":37.3,"counts":726},{"theta":37.6,"counts":722},
      {"theta":38.0,"counts":728},{"theta":38.4,"counts":721},{"theta":38.8,"counts":726},{"theta":39.2,"counts":720},
      {"theta":39.6,"counts":725},{"theta":40.0,"counts":721},{"theta":40.5,"counts":726},{"theta":41.0,"counts":722},
      {"theta":41.5,"counts":727},{"theta":42.0,"counts":723},{"theta":42.5,"counts":729},{"theta":43.0,"counts":728},
      {"theta":43.5,"counts":734},{"theta":44.0,"counts":730},{"theta":44.5,"counts":733},{"theta":45.0,"counts":729},
      {"theta":45.5,"counts":734},{"theta":46.0,"counts":729},{"theta":46.5,"counts":733},{"theta":47.0,"counts":728},
      {"theta":47.5,"counts":732},{"theta":48.0,"counts":727},{"theta":48.5,"counts":731},{"theta":49.0,"counts":726},
      {"theta":49.5,"counts":730},{"theta":50.0,"counts":725},{"theta":50.5,"counts":729},{"theta":51.0,"counts":724},
      {"theta":51.5,"counts":728},{"theta":52.0,"counts":725},{"theta":52.5,"counts":729},{"theta":53.0,"counts":726},
      {"theta":53.5,"counts":730},{"theta":53.8,"counts":734},{"theta":54.2,"counts":727},{"theta":54.6,"counts":724},
      {"theta":55.0,"counts":722},{"theta":55.5,"counts":719},{"theta":56.0,"counts":722},{"theta":56.5,"counts":718},
      {"theta":57.0,"counts":722},{"theta":57.5,"counts":717},{"theta":58.0,"counts":721},{"theta":58.5,"counts":718},
      {"theta":59.0,"counts":723},{"theta":59.5,"counts":724},{"theta":60.0,"counts":727},{"theta":60.5,"counts":728},
      {"theta":61.0,"counts":726},{"theta":61.5,"counts":730},{"theta":62.0,"counts":727},{"theta":62.5,"counts":731},
      {"theta":63.0,"counts":726},{"theta":63.5,"counts":730},{"theta":64.0,"counts":727},{"theta":64.5,"counts":731},
      {"theta":65.0,"counts":727},{"theta":65.5,"counts":730},{"theta":66.0,"counts":726},{"theta":66.5,"counts":730},
      {"theta":67.0,"counts":727},{"theta":67.5,"counts":730},{"theta":68.0,"counts":735},{"theta":68.3,"counts":750},
      {"theta":68.55,"counts":762},{"theta":68.8,"counts":748},{"theta":69.1,"counts":730},{"theta":69.5,"counts":726},
      {"theta":70.0,"counts":727},{"theta":70.5,"counts":729},{"theta":71.0,"counts":725},{"theta":71.5,"counts":728},
      {"theta":72.0,"counts":724},{"theta":72.5,"counts":728},{"theta":73.0,"counts":723},{"theta":73.5,"counts":727},
      {"theta":74.0,"counts":722},{"theta":74.5,"counts":721},{"theta":75.0,"counts":718},{"theta":75.5,"counts":721},
      {"theta":76.0,"counts":717},{"theta":76.5,"counts":721},{"theta":77.0,"counts":718},{"theta":77.5,"counts":724},
      {"theta":78.0,"counts":725},{"theta":78.5,"counts":729},{"theta":79.0,"counts":726},{"theta":79.5,"counts":730},
      {"theta":80.0,"counts":727},{"theta":80.5,"counts":731},{"theta":81.0,"counts":727},{"theta":81.5,"counts":731},
      {"theta":82.0,"counts":728},{"theta":82.5,"counts":732},{"theta":83.0,"counts":728},{"theta":83.5,"counts":731},
      {"theta":84.0,"counts":729},{"theta":84.5,"counts":732},{"theta":84.8,"counts":736},{"theta":85.1,"counts":730},
      {"theta":85.5,"counts":727},{"theta":86.0,"counts":730},{"theta":86.5,"counts":726},{"theta":87.0,"counts":730},
      {"theta":87.5,"counts":725},{"theta":88.0,"counts":729},{"theta":88.5,"counts":725},{"theta":89.0,"counts":728},
      {"theta":89.5,"counts":724},{"theta":90.0,"counts":727},{"theta":90.5,"counts":723},{"theta":91.0,"counts":727},
      {"theta":91.5,"counts":722},{"theta":92.0,"counts":726},{"theta":92.5,"counts":722},{"theta":93.0,"counts":726},
      {"theta":93.5,"counts":721},{"theta":94.0,"counts":725},{"theta":94.5,"counts":721},{"theta":95.0,"counts":725},
      {"theta":95.5,"counts":720},{"theta":96.0,"counts":724},{"theta":96.5,"counts":720},{"theta":96.9,"counts":722}
    ],
    "dry": [
      {"theta":30.0,"counts":639},{"theta":31.0,"counts":638},{"theta":32.0,"counts":639},{"theta":33.0,"counts":638},
      {"theta":34.0,"counts":638},{"theta":35.0,"counts":639},{"theta":36.0,"counts":639},{"theta":37.0,"counts":638},
      {"theta":38.0,"counts":637},{"theta":39.0,"counts":638},{"theta":40.3,"counts":637},{"theta":41.0,"counts":638},
      {"theta":42.0,"counts":641},{"theta":43.0,"counts":643},{"theta":43.5,"counts":645},{"theta":45.0,"counts":645},
      {"theta":47.0,"counts":645},{"theta":48.0,"counts":644},{"theta":49.0,"counts":641},{"theta":50.0,"counts":639},
      {"theta":51.0,"counts":641},{"theta":52.0,"counts":644},{"theta":53.0,"counts":646},{"theta":54.0,"counts":648},
      {"theta":55.0,"counts":647},{"theta":56.0,"counts":645},{"theta":57.0,"counts":643},{"theta":58.0,"counts":645},
      {"theta":59.0,"counts":646},{"theta":60.3,"counts":647},{"theta":61.0,"counts":647},{"theta":62.0,"counts":646},
      {"theta":63.0,"counts":644},{"theta":64.0,"counts":643},{"theta":65.0,"counts":644},{"theta":66.0,"counts":647},
      {"theta":67.0,"counts":648},{"theta":68.0,"counts":648},{"theta":70.0,"counts":649},{"theta":72.0,"counts":649},
      {"theta":74.0,"counts":649},{"theta":76.0,"counts":649},{"theta":78.0,"counts":650},{"theta":80.0,"counts":650},
      {"theta":82.0,"counts":650},{"theta":84.0,"counts":651},{"theta":86.0,"counts":652},{"theta":88.0,"counts":653},
      {"theta":90.0,"counts":654},{"theta":91.0,"counts":656},{"theta":92.0,"counts":657},{"theta":93.0,"counts":657},
      {"theta":94.0,"counts":655},{"theta":95.0,"counts":654},{"theta":96.0,"counts":653},{"theta":96.9,"counts":654}
    ]
  },
  "layer": [
    {
      "data": {"name": "xrd"},
      "mark": {"type": "line", "color": "black", "strokeJoin": "round", "strokeCap": "butt"},
      "encoding": {
        "x": {
          "field": "theta", "type": "quantitative",
          "scale": {"domain": [30, 116.62], "nice": false, "zero": false},
          "axis": {
            "values": [30, 40, 50, 60, 70, 80, 90, 100, 110],
            "format": "d",
            "title": "2θ (°)",
            "grid": false, "labelFlush": false,
            "domainColor": "#a6a6a6", "domainWidth": 1.5,
            "tickColor": "#a6a6a6", "tickWidth": 1.5, "tickSize": 9,
            "labelFont": "Liberation Sans", "labelFontSize": 33, "labelFontWeight": "bold",
            "labelColor": "black", "labelPadding": 17,
            "titleFont": "Liberation Sans", "titleFontSize": 25, "titleFontWeight": "bold",
            "titleColor": "black", "titleX": 511, "titleY": 72,
            "titleAlign": "center", "titleBaseline": "alphabetic"
          }
        },
        "y": {
          "field": "counts", "type": "quantitative",
          "scale": {"domain": [0, 890], "nice": false},
          "axis": {
            "title": "COUNTS",
            "grid": false, "ticks": false, "labels": false, "domain": false,
            "titleFont": "Liberation Sans", "titleFontSize": 29, "titleFontWeight": "bold",
            "titleColor": "black", "titleAngle": 270,
            "titleX": -37, "titleY": 435, "titleAlign": "center", "titleBaseline": "middle"
          }
        },
        "strokeDash": {
          "field": "series", "type": "ordinal",
          "scale": {"domain": ["DCPD sim", "DCPD exp"], "range": [[8, 4], [1, 0]]},
          "legend": {
            "title": null, "orient": "none", "legendX": 609, "legendY": 626,
            "padding": 0, "symbolType": "stroke", "symbolSize": 1849,
            "symbolStrokeColor": "black",
            "labelFont": "Liberation Sans", "labelFontSize": 33, "labelFontWeight": "bold",
            "labelColor": "black", "labelOffset": 1, "rowPadding": 12
          }
        },
        "strokeWidth": {
          "field": "series", "type": "ordinal",
          "scale": {"domain": ["DCPD sim", "DCPD exp"], "range": [2.5, 5]},
          "legend": {
            "title": null, "orient": "none", "legendX": 609, "legendY": 626,
            "padding": 0, "symbolType": "stroke", "symbolSize": 1849,
            "symbolStrokeColor": "black",
            "labelFont": "Liberation Sans", "labelFontSize": 33, "labelFontWeight": "bold",
            "labelColor": "black", "labelOffset": 1, "rowPadding": 12
          }
        }
      }
    },
    {
      "layer": [
        {
          "data": {"values": [{}]},
          "mark": {"type": "rect", "fill": "white", "stroke": "#a6a6a6", "strokeWidth": 1.5},
          "encoding": {
            "x": {"datum": 25.892, "type": "quantitative",
                  "scale": {"domain": [9.027, 115.081], "nice": false, "zero": false},
                  "axis": {
                    "orient": "bottom", "offset": -624, "title": null, "zindex": 2,
                    "values": [30, 40, 50, 60, 70, 80, 90], "format": ".1f",
                    "grid": false, "domain": false, "labelFlush": false,
                    "tickColor": "#a6a6a6", "tickWidth": 1.5, "tickSize": 8,
                    "labelFont": "Liberation Sans", "labelFontSize": 26, "labelFontWeight": "bold",
                    "labelColor": "black", "labelPadding": 10
                  }},
            "x2": {"datum": 101.135},
            "y": {"datum": 852, "type": "quantitative"},
            "y2": {"datum": 567}
          }
        },
        {
          "data": {"values": [{}]},
          "mark": {"type": "rule", "color": "#a6a6a6", "strokeWidth": 1.5},
          "encoding": {
            "x": {"datum": 30, "type": "quantitative"},
            "x2": {"datum": 96.9},
            "y": {"datum": 624, "type": "quantitative"}
          }
        },
        {
          "data": {"name": "dry"},
          "mark": {"type": "line", "color": "#9c9c9c", "strokeWidth": 2.5, "strokeDash": [6, 4], "strokeJoin": "round"},
          "encoding": {
            "x": {"field": "theta", "type": "quantitative"},
            "y": {"field": "counts", "type": "quantitative"}
          }
        },
        {
          "data": {"name": "hydrated"},
          "mark": {"type": "line", "color": "#8e8e8e", "strokeWidth": 4, "strokeJoin": "round"},
          "encoding": {
            "x": {"field": "theta", "type": "quantitative"},
            "y": {"field": "counts", "type": "quantitative"}
          }
        },
        {
          "data": {"values": [{"label": "ACP hydrated", "theta": 41.5, "counts": 742}]},
          "mark": {"type": "text", "align": "left", "baseline": "alphabetic", "font": "Liberation Sans",
                   "fontSize": 30, "fontWeight": "bold", "color": "#595959"},
          "encoding": {
            "x": {"field": "theta", "type": "quantitative"},
            "y": {"field": "counts", "type": "quantitative"},
            "text": {"field": "label"}
          }
        },
        {
          "data": {"values": [{"label": "ACP Dry", "theta": 41.5, "counts": 653}]},
          "mark": {"type": "text", "align": "left", "baseline": "alphabetic", "font": "Liberation Sans",
                   "fontSize": 30, "fontWeight": "bold", "color": "#8c8c8c"},
          "encoding": {
            "x": {"field": "theta", "type": "quantitative"},
            "y": {"field": "counts", "type": "quantitative"},
            "text": {"field": "label"}
          }
        },
        {
          "data": {"values": [{}]},
          "mark": {"type": "rect", "fill": "#c9c3bc"},
          "encoding": {
            "x": {"datum": 113.46, "type": "quantitative"},
            "x2": {"datum": 160.92},
            "y": {"datum": 885, "type": "quantitative"},
            "y2": {"datum": 737}
          }
        },
        {
          "data": {"values": [{}]},
          "mark": {"type": "rule", "color": "#2e75b6", "strokeWidth": 2},
          "encoding": {
            "x": {"datum": 113.46, "type": "quantitative"},
            "y": {"datum": 885, "type": "quantitative"},
            "y2": {"datum": 737}
          }
        },
        {
          "data": {"values": [{}]},
          "mark": {"type": "rule", "color": "#2e75b6", "strokeWidth": 1.8},
          "encoding": {
            "x": {"datum": 89.89, "type": "quantitative"},
            "x2": {"datum": 113.46},
            "y": {"datum": 732, "type": "quantitative"},
            "y2": {"datum": 826}
          }
        },
        {
          "data": {"values": [{}]},
          "mark": {"type": "text", "text": ["Matured for 3", "weeks & hydrated"], "lineHeight": 55,
                   "align": "left", "baseline": "alphabetic", "font": "Liberation Sans",
                   "fontSize": 47.5, "fontWeight": "bold", "color": "#4d4a44"},
          "encoding": {
            "x": {"datum": 115.84, "type": "quantitative"},
            "y": {"datum": 827, "type": "quantitative"}
          }
        }
      ]
    }
  ],
  "resolve": {"scale": {"x": "independent"}, "axis": {"x": "independent"}}
}
